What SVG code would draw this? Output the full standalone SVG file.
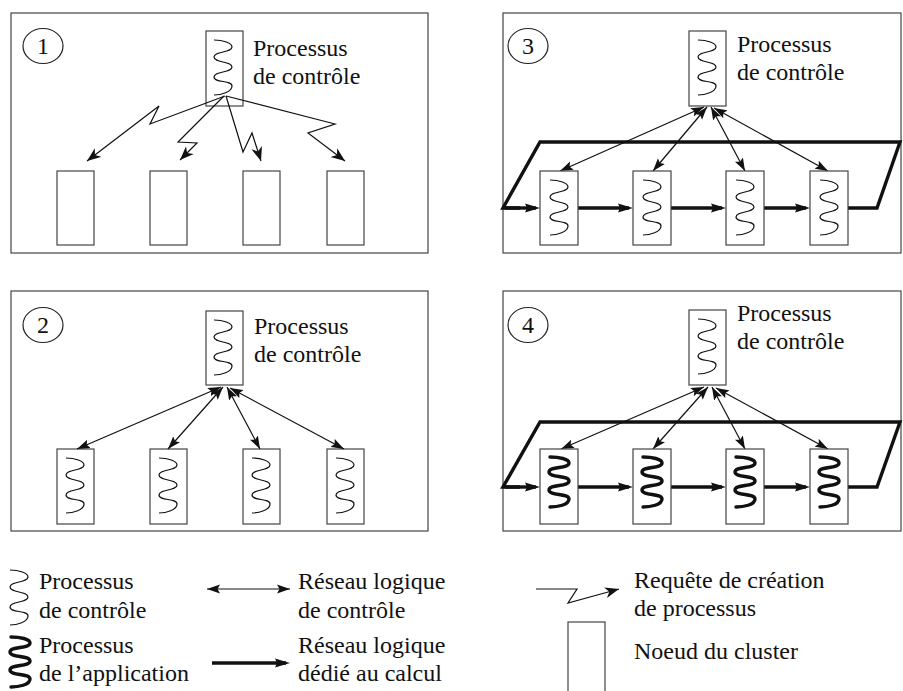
<svg xmlns="http://www.w3.org/2000/svg" width="903" height="691" viewBox="0 0 903 691">
<style>
.panel{fill:none;stroke:#444;stroke-width:1.2}
.node{fill:#fff;stroke:#444;stroke-width:1.2}
.num{fill:none;stroke:#222;stroke-width:1.2}
text{font-family:"Liberation Serif","Times New Roman","DejaVu Serif",serif;font-size:24px;fill:#111}
.tn{text-anchor:middle}
.wv{fill:none;stroke:#111;stroke-width:1.2}
.wk{fill:none;stroke:#111;stroke-width:3.4;stroke-linecap:round}
.req{fill:none;stroke:#111;stroke-width:1.2;marker-end:url(#ahz)}
.dbl{fill:none;stroke:#111;stroke-width:1.2;marker-start:url(#ah);marker-end:url(#ah)}
.thick{fill:none;stroke:#111;stroke-width:3.4;stroke-linejoin:miter}
.tarr{fill:none;stroke:#111;stroke-width:3.4;marker-end:url(#aht)}
</style>
<defs>
<marker id="ah" markerUnits="userSpaceOnUse" markerWidth="14" markerHeight="10" viewBox="0 0 14 10" refX="13" refY="5" orient="auto-start-reverse"><path d="M0,0.5 L13,5 L0,9.5 L2.5,5 z" fill="#111"/></marker>
<marker id="ahz" markerUnits="userSpaceOnUse" markerWidth="15" markerHeight="12" viewBox="0 0 15 12" refX="14" refY="6" orient="auto"><path d="M0,0.5 L14,6 L0,11.5 L4,6 z" fill="#111"/></marker>
<marker id="aht" markerUnits="userSpaceOnUse" markerWidth="16" markerHeight="10" viewBox="0 0 16 10" refX="11" refY="5" orient="auto"><path d="M0,0.5 L15,5 L0,9.5 L2,5 z" fill="#111"/></marker>
<path id="w" d="M-9,0 C0,0 9,3 9,7 C9,13 -9,11 -9,17 C-9,23 9,21 9,27 C9,33 -9,31 -9,37 C-9,43 9,40 9,46 C9,52 -2,55 -9,55"/>
<path id="wt" d="M-9,0 C0,0 10,2 10,6 C10,12 -10,9 -10,15 C-10,21 10,18 10,24 C10,30 -10,27 -10,33 C-10,39 10,36 10,42 C10,48 -2,50 -9,50"/>
</defs>

<g id="panel1">
<rect class="panel" x="11" y="13" width="417" height="240"/>
<ellipse class="num" cx="43" cy="46" rx="20" ry="17.5"/>
<text class="tn" x="43" y="54">1</text>
</g>
<g id="p1-control">
<rect class="node" x="206" y="31" width="37" height="75"/>
<use href="#w" class="wv" x="223" y="40"/>
<text x="253" y="56">Processus</text>
<text x="253" y="84">de contrôle</text>
</g>
<g id="p1-n1"><rect class="node" x="57" y="171" width="37" height="74"/></g>
<g id="p1-n2"><rect class="node" x="150" y="171" width="37" height="74"/></g>
<g id="p1-n3"><rect class="node" x="243" y="171" width="37" height="74"/></g>
<g id="p1-n4"><rect class="node" x="327" y="171" width="37" height="74"/></g>

<g id="panel2">
<rect class="panel" x="11" y="291" width="417" height="240"/>
<ellipse class="num" cx="43" cy="325" rx="20" ry="17.5"/>
<text class="tn" x="43" y="333">2</text>
</g>
<g id="p2-control">
<rect class="node" x="206" y="311" width="37" height="74"/>
<use href="#w" class="wv" x="223" y="320"/>
<text x="254" y="334">Processus</text>
<text x="254" y="362">de contrôle</text>
</g>
<g id="p2-n1"><rect class="node" x="57" y="449" width="37" height="75"/><use href="#w" class="wv" x="75" y="458"/></g>
<g id="p2-n2"><rect class="node" x="150" y="449" width="37" height="75"/><use href="#w" class="wv" x="168" y="458"/></g>
<g id="p2-n3"><rect class="node" x="243" y="449" width="37" height="75"/><use href="#w" class="wv" x="261" y="458"/></g>
<g id="p2-n4"><rect class="node" x="327" y="449" width="37" height="75"/><use href="#w" class="wv" x="345" y="458"/></g>

<g id="panel3">
<rect class="panel" x="503" y="13" width="398" height="240"/>
<ellipse class="num" cx="528" cy="46" rx="20" ry="17.5"/>
<text class="tn" x="528" y="54">3</text>
</g>
<g id="p3-control">
<rect class="node" x="689" y="31" width="37" height="75"/>
<use href="#w" class="wv" x="707" y="40"/>
<text x="737" y="52">Processus</text>
<text x="737" y="80">de contrôle</text>
</g>

<g id="panel4">
<rect class="panel" x="503" y="291" width="398" height="240"/>
<ellipse class="num" cx="528" cy="325" rx="20" ry="17.5"/>
<text class="tn" x="528" y="333">4</text>
</g>
<g id="p4-control">
<rect class="node" x="689" y="310" width="37" height="75"/>
<use href="#w" class="wv" x="707" y="319"/>
<text x="737" y="321">Processus</text>
<text x="737" y="349">de contrôle</text>
</g>

<g id="connectors">
<path class="req" d="M225,96 L150,124 L159,106 L87,161"/>
<path class="req" d="M224,96 L178,142 L197,143 L180,160"/>
<path class="req" d="M226,96 L243,152 L252,133 L261,161"/>
<path class="req" d="M226,96 L335,124 L308,133 L345,161"/>
<path class="dbl" d="M221,387 L77,449"/>
<path class="dbl" d="M223,387 L168,449"/>
<path class="dbl" d="M227,387 L260,449"/>
<path class="dbl" d="M230,388 L344,449"/>
<path class="thick" d="M848,208 L877,208 L900,142 L540,142 L503,208 L520,208"/>
<path class="tarr" d="M505,208 L536,208"/>
<path class="tarr" d="M578,208 L629,208"/>
<path class="tarr" d="M671,208 L722,208"/>
<path class="tarr" d="M764,208 L806,208"/>
<path class="dbl" d="M704,107 L560,171"/>
<path class="dbl" d="M707,107 L653,171"/>
<path class="dbl" d="M711,107 L745,171"/>
<path class="dbl" d="M714,108 L828,171"/>
<path class="thick" d="M848,487 L877,487 L900,422 L540,422 L503,487 L520,487"/>
<path class="tarr" d="M505,487 L536,487"/>
<path class="tarr" d="M578,487 L629,487"/>
<path class="tarr" d="M671,487 L722,487"/>
<path class="tarr" d="M764,487 L806,487"/>
<path class="dbl" d="M704,387 L561,449"/>
<path class="dbl" d="M708,387 L653,449"/>
<path class="dbl" d="M712,387 L745,449"/>
<path class="dbl" d="M716,388 L828,449"/>
</g>

<g id="p3-n1"><rect class="node" x="540" y="171" width="38" height="74"/><use href="#w" class="wv" x="559" y="180"/></g>
<g id="p3-n2"><rect class="node" x="633" y="171" width="38" height="74"/><use href="#w" class="wv" x="652" y="180"/></g>
<g id="p3-n3"><rect class="node" x="726" y="171" width="38" height="74"/><use href="#w" class="wv" x="745" y="180"/></g>
<g id="p3-n4"><rect class="node" x="810" y="171" width="38" height="74"/><use href="#w" class="wv" x="829" y="180"/></g>
<g id="p4-n1"><rect class="node" x="540" y="449" width="38" height="75"/><use href="#wt" class="wk" x="559" y="457"/></g>
<g id="p4-n2"><rect class="node" x="633" y="449" width="38" height="75"/><use href="#wt" class="wk" x="652" y="457"/></g>
<g id="p4-n3"><rect class="node" x="726" y="449" width="38" height="75"/><use href="#wt" class="wk" x="745" y="457"/></g>
<g id="p4-n4"><rect class="node" x="810" y="449" width="38" height="75"/><use href="#wt" class="wk" x="829" y="457"/></g>

<g id="legend">
<use href="#w" class="wv" x="19" y="570"/>
<text x="39" y="589">Processus</text>
<text x="39" y="618">de contrôle</text>
<use href="#wt" class="wk" x="20" y="637"/>
<text x="39" y="653">Processus</text>
<text x="39" y="681">de l’application</text>
<path class="dbl" d="M207,589 L290,589"/>
<text x="298" y="589">Réseau logique</text>
<text x="298" y="618">de contrôle</text>
<path class="tarr" d="M212,663 L286,663"/>
<text x="298" y="653">Réseau logique</text>
<text x="298" y="681">dédié au calcul</text>
<path class="req" d="M536,589 L577,589 L568,603 L619,589"/>
<text x="634" y="588">Requête de création</text>
<text x="634" y="616">de processus</text>
<rect class="node" x="568" y="622" width="37" height="80"/>
<text x="634" y="659">Noeud du cluster</text>
</g>
</svg>
